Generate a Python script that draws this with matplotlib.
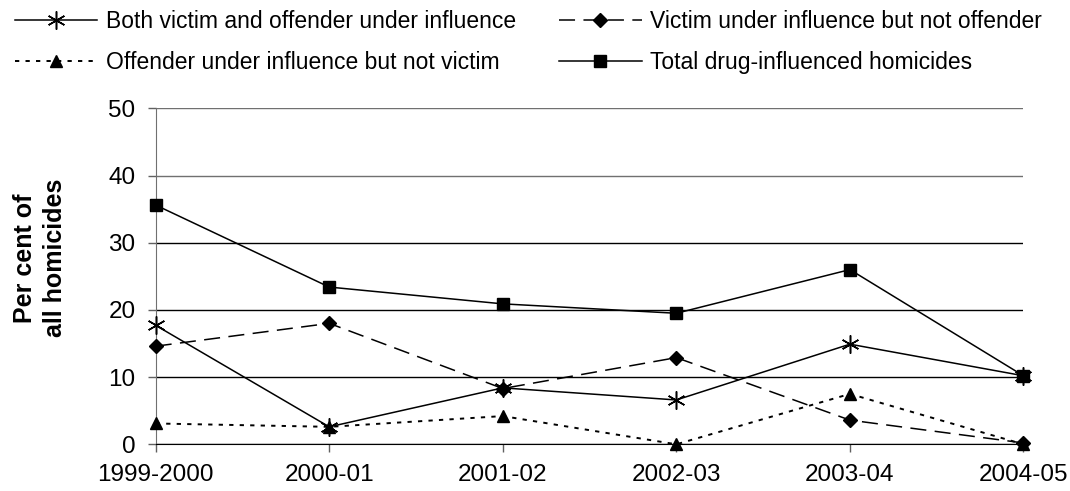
import matplotlib
matplotlib.use("Agg")
import matplotlib.pyplot as plt

plt.rcParams['font.family'] = ['Liberation Sans', 'DejaVu Sans']

years = ['1999-2000', '2000-01', '2001-02', '2002-03', '2003-04', '2004-05']
both = [17.7, 2.6, 8.4, 6.6, 14.9, 10.2]
victim_only = [14.6, 18.0, 8.3, 12.9, 3.6, 0.2]
offender_only = [3.1, 2.6, 4.2, 0.0, 7.5, 0.0]
total = [35.6, 23.4, 20.9, 19.5, 26.0, 10.2]

fig = plt.figure(figsize=(10.7, 4.91), dpi=100)
ax = fig.add_axes([0.1455, 0.0951, 0.811, 0.6843])

x = list(range(len(years)))
lw = 1.1
l_both, = ax.plot(x, both, color='black', lw=lw, marker=(6, 2, 0), ms=13, mew=1.1,
                  label='Both victim and offender under influence', clip_on=False, zorder=3)
l_vic, = ax.plot(x, victim_only, color='black', lw=lw, dashes=(10.5, 5.5), marker='D', ms=7,
                 label='Victim under influence but not offender', clip_on=False, zorder=3)
l_off, = ax.plot(x, offender_only, color='black', lw=1.4, dashes=(2.2, 3.2), marker='^', ms=9,
                 label='Offender under influence but not victim', clip_on=False, zorder=3)
l_tot, = ax.plot(x, total, color='black', lw=lw, marker='s', ms=8.5,
                 label='Total drug-influenced homicides', clip_on=False, zorder=3)

ax.set_xlim(0, len(years) - 1)
ax.set_ylim(0, 50)
ax.set_yticks(range(0, 51, 10))
ax.set_xticks(x)
ax.set_xticklabels(years)
ax.tick_params(axis='both', labelsize=17.5, length=6, width=1, color='#606060')
ax.tick_params(axis='y', pad=8.5)
ax.tick_params(axis='x', pad=8.5)

ax.yaxis.grid(True, color='black', lw=1)
for gl, val in zip(ax.get_ygridlines(), ax.get_yticks()):
    if val >= 40:
        gl.set_color('#707070')
ax.set_axisbelow(True)

for s in ['top', 'right']:
    ax.spines[s].set_visible(False)
ax.spines['left'].set_color('#707070')
ax.spines['bottom'].set_color('black')

fig.text(0.0375, 0.475, 'Per cent of\nall homicides', rotation=90, ha='center', va='center',
         fontsize=18, fontweight='bold', linespacing=1.35)

fig.legend(handles=[l_both, l_off, l_vic, l_tot], ncol=2, loc='upper left',
           bbox_to_anchor=(0.014, 0.979), frameon=False, fontsize=16.5,
           handlelength=3.6, handletextpad=0.35, columnspacing=1.9,
           labelspacing=0.78, borderaxespad=0, borderpad=0)

fig.savefig('out.png', dpi=100)
